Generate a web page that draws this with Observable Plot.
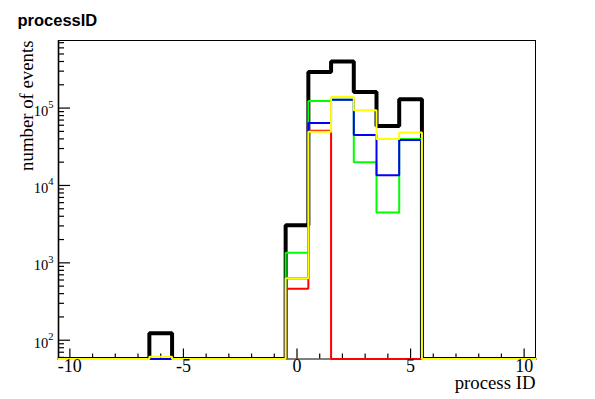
<!DOCTYPE html>
<html><head><meta charset="utf-8">
<script src="https://cdn.jsdelivr.net/npm/d3@7"></script>
<script src="https://cdn.jsdelivr.net/npm/@observablehq/plot@0.6"></script>
<style>
body{margin:0;background:#fff;}
#chart{width:595px;height:399px;}
</style></head><body><div id="chart"></div>
<script>
// bin centers (process ID), bin width 1
const binCenters = d3.range(-10, 11);
// counts per bin, index = processID + 10
const blackCounts  = [0,0,0,0,123,0,0,0,0,0,3060,292000,400000,161000,58700,130000,0,0,0,0,0];
const greenCounts  = [0,0,0,0,0,0,0,0,0,0,1350,123000,128000,20000,4460,39800,0,0,0,0,0];
const blueCounts   = [0,0,0,0,0,0,0,0,0,0,630,64000,128000,44900,13600,38600,0,0,0,0,0];
const redCounts    = [0,0,0,0,0,0,0,0,0,0,462,51000,0,0,0,0,0,0,0,0,0];
const yellowCounts = [0,0,0,0,61,0,0,0,0,0,630,49500,139000,94000,39800,48500,0,0,0,0,0];

const xTickLabels = [-10, -5, 0, 5, 10];
const xMinorTicks = d3.range(-10, 11).filter(d => d % 5 !== 0);
const yMajorTicks = [1e2, 1e3, 1e4, 1e5];
const yMinorTicks = [];
for (const p of [10, 100, 1000, 10000, 100000]) for (let k = 2; k <= 9; k++) yMinorTicks.push(k * p);

const yMin = 57.2, yMax = 747000;
const W = 595, H = 399, mL = 58, mR = 60, mT = 40, mB = 40.5;
const frameW = W - mL - mR, frameH = H - mT - mB;

function steps(values) {
  return binCenters.flatMap((c, i) => [
    {x: c - 0.5, y: Math.max(values[i], yMin)},
    {x: c + 0.5, y: Math.max(values[i], yMin)}
  ]);
}
// drawing order: black, green, red, blue, yellow
const series = [
  {values: blackCounts, color: "#000000", width: 4, clip: true},
  {values: greenCounts, color: "#00ff00", width: 2, clip: false},
  {values: redCounts, color: "#ff0000", width: 2, clip: false},
  {values: blueCounts, color: "#0000ff", width: 2, clip: false},
  {values: yellowCounts, color: "#ffff00", width: 2, clip: false}
];

const chart = Plot.plot({
  width: W, height: H,
  marginLeft: mL, marginRight: mR, marginTop: mT, marginBottom: mB,
  style: {fontFamily: "Liberation Serif", background: "white", color: "black"},
  x: {domain: [-10.5, 10.5], axis: null},
  y: {type: "log", domain: [yMin, yMax], axis: null, clamp: true},
  marks: [
    Plot.frame({stroke: "black", strokeWidth: 1}),
    Plot.ruleX([-10.5], {stroke: "black", strokeWidth: 1.6}),
    Plot.tickX(xMinorTicks, {x: d => d, stroke: "black", strokeWidth: 1.2, insetTop: frameH - 5}),
    Plot.tickX(xTickLabels, {x: d => d, stroke: "black", strokeWidth: 1.2, insetTop: frameH - 10}),
    Plot.tickY(yMinorTicks.filter(d => d >= yMin && d <= yMax), {y: d => d, stroke: "black", strokeWidth: 1.2, insetRight: frameW - 6}),
    Plot.tickY(yMajorTicks, {y: d => d, stroke: "black", strokeWidth: 1.2, insetRight: frameW - 12}),
    ...series.map(s => Plot.line(steps(s.values), {
      x: "x", y: "y", stroke: s.color, strokeWidth: s.width,
      strokeLinejoin: "miter", strokeLinecap: "square", clip: s.clip
    })),
    Plot.text(xTickLabels, {x: d => d, frameAnchor: "bottom", text: d => String(d), dy: 13, fontSize: 18, fill: "black"}),
    Plot.text(yMajorTicks, {y: d => d, frameAnchor: "left", text: () => "10", textAnchor: "end", dx: -10.3, dy: 3, fontSize: 14.5, fill: "black"}),
    Plot.text(yMajorTicks, {y: d => d, frameAnchor: "left", text: d => String(Math.round(Math.log10(d))), textAnchor: "start", dx: -10.3, dy: -3.5, fontSize: 10.5, fill: "black"}),
    Plot.text(["process ID"], {frameAnchor: "bottom-right", text: d => d, textAnchor: "end", dy: 30, fontSize: 18.8, fill: "black"}),
    Plot.text(["number of events"], {frameAnchor: "top-left", text: d => d, textAnchor: "end", rotate: -90, dx: -39, dy: 0, fontSize: 18.8, fill: "black"}),
    Plot.text(["processID"], {frameAnchor: "top-left", text: d => d, textAnchor: "start", dx: 17 - mL, dy: 14 - mT, fontSize: 16.5, fontWeight: "bold", fontFamily: "Liberation Sans", fill: "black"})
  ]
});
document.getElementById("chart").appendChild(chart);
</script>
</body></html>
